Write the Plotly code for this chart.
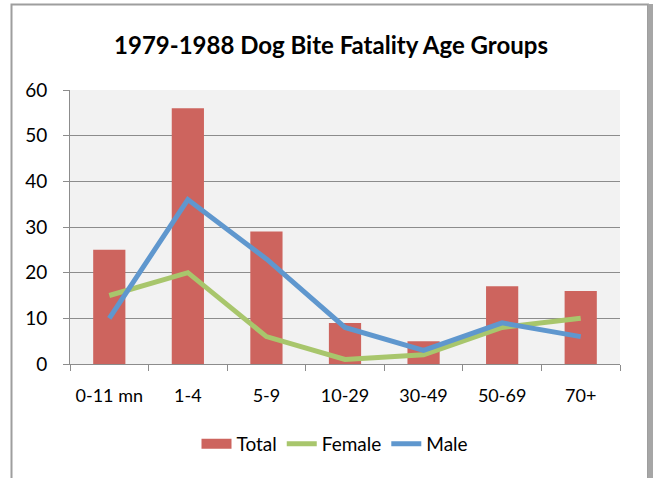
import plotly.graph_objects as go

categories = ["0-11 mn", "1-4", "5-9", "10-29", "30-49", "50-69", "70+"]
total = [25, 56, 29, 9, 5, 17, 16]
female = [15, 20, 6, 1, 2, 8, 10]
male = [10, 36, 23, 8, 3, 9, 6]

FONT = "Lato"
W, H = 653, 478
# plot area in screen coords: x 70..620, y 90..364
L, T = 70, 90
R = W - 620
B = H - 364
pw, ph = W - L - R, H - T - B

def px(x):
    return (x - L) / pw

def py(y):
    return (H - B - y) / ph

RED, GREEN, BLUE = "#CD645E", "#A8C66C", "#5F97CE"

fig = go.Figure()
fig.add_trace(go.Bar(x=categories, y=total, name="Total", width=0.41, showlegend=False,
                     marker=dict(color=RED, line=dict(width=0))))
fig.add_trace(go.Scatter(x=[categories[0]], y=[None], name="Total", mode="lines",
                         line=dict(color=RED, width=14), hoverinfo="skip"))
fig.add_trace(go.Scatter(x=categories, y=female, name="Female", mode="lines",
                         line=dict(color=GREEN, width=5)))
fig.add_trace(go.Scatter(x=categories, y=male, name="Male", mode="lines",
                         line=dict(color=BLUE, width=5)))

fig.update_layout(
    width=W, height=H,
    margin=dict(l=L, r=R, t=T, b=B),
    paper_bgcolor="white",
    plot_bgcolor="#F2F2F2",
    font=dict(family=FONT, color="black", size=19),
    title=dict(text="<b>1979-1988 Dog Bite Fatality Age Groups</b>",
               x=331 / W, xanchor="center", y=1 - 46 / H, yanchor="middle",
               font=dict(family=FONT, size=24, color="black")),
    showlegend=True,
    legend=dict(orientation="h", x=px(335), xanchor="center",
                y=py(444), yanchor="middle",
                font=dict(family=FONT, size=19), itemwidth=30,
                traceorder="normal", bgcolor="rgba(0,0,0,0)"),
)
fig.update_xaxes(type="category", showgrid=False, showline=True, linecolor="#8C8C8C",
                 linewidth=1, ticks="outside", tickson="boundaries", ticklen=6,
                 tickcolor="#8C8C8C", ticklabelstandoff=15, tickangle=0,
                 tickfont=dict(family=FONT, size=18), range=[-0.5, 6.5])
fig.update_yaxes(range=[0, 60], dtick=10, showgrid=True, gridcolor="#8C8C8C",
                 gridwidth=1, showline=True, linecolor="#8C8C8C", linewidth=1,
                 ticks="outside", ticklen=6, tickcolor="#8C8C8C",
                 ticklabelstandoff=12, zeroline=False,
                 tickfont=dict(family=FONT, size=19))

# chart frame
fig.add_shape(type="rect", xref="paper", yref="paper",
              x0=px(11.5), x1=px(648), y0=py(4.5), y1=py(540),
              line=dict(color="#9E9E9E", width=2), layer="below")
fig.add_shape(type="rect", xref="paper", yref="paper",
              x0=px(648), x1=px(656), y0=py(4), y1=py(540),
              fillcolor="#A6A6A6", line=dict(width=0), layer="below")

fig.write_html("out.html", config={"displayModeBar": False},
               post_script="document.body.style.margin='0';document.body.style.overflow='hidden';")
